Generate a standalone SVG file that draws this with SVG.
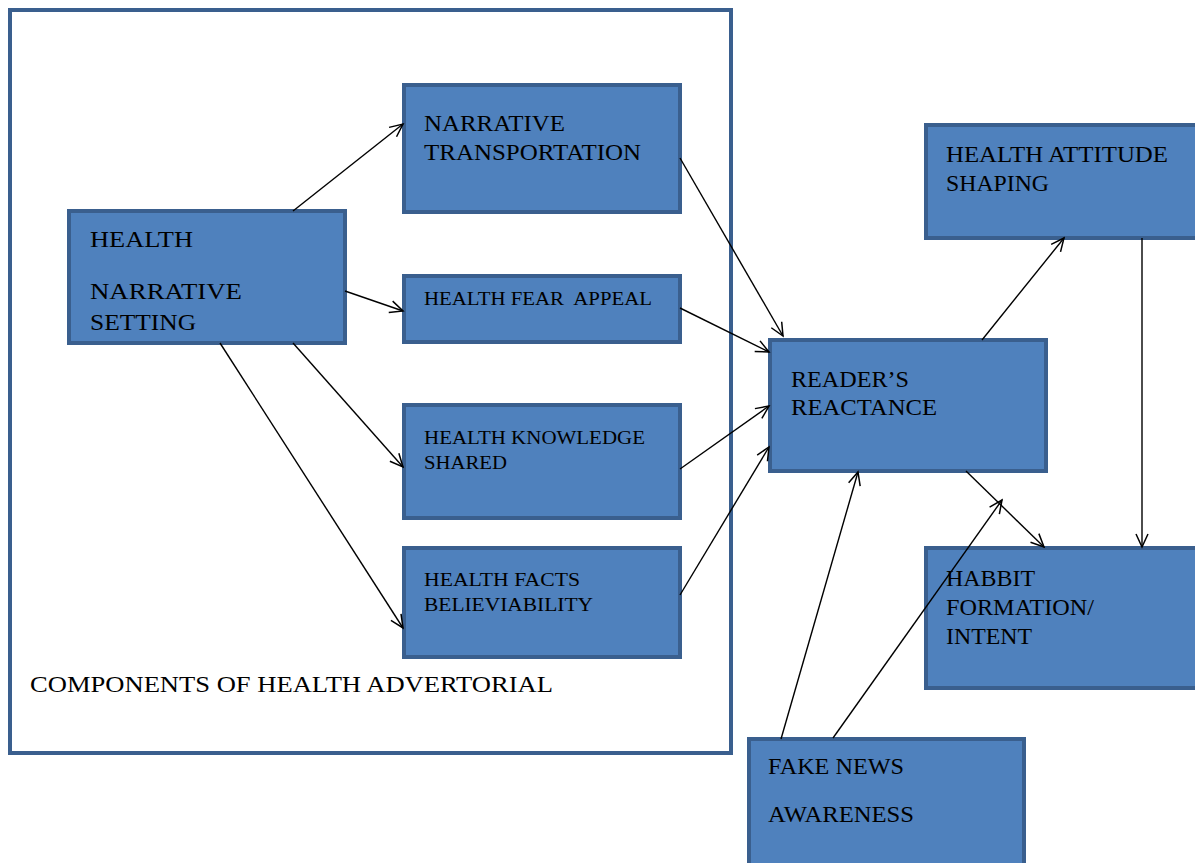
<svg xmlns="http://www.w3.org/2000/svg" width="1195" height="863" viewBox="0 0 1195 863">
<defs>
<style>
.box{fill:#4f81bd;stroke:#3a5f8e;stroke-width:4}
.frame{fill:#ffffff;stroke:#3a5f8e;stroke-width:4}
.t{font-family:"Liberation Serif","Times New Roman",serif;font-size:24px;fill:#000}
.s{font-family:"Liberation Serif","Times New Roman",serif;font-size:19px;fill:#000}
.c{stroke:#000;stroke-width:1.4;fill:none;marker-end:url(#arr)}
</style>
<marker id="arr" markerUnits="userSpaceOnUse" markerWidth="18" markerHeight="18" viewBox="0 0 18 18" refX="16" refY="9" orient="auto">
<path d="M3,3 L16,9 L3,15" fill="none" stroke="#000" stroke-width="1.5"/>
</marker>
</defs>
<g id="container">
<rect class="frame" x="10" y="10" width="721" height="743"/>
<text class="t" x="30" y="692" textLength="523" lengthAdjust="spacingAndGlyphs">COMPONENTS OF HEALTH ADVERTORIAL</text>
</g>
<g id="narrative-setting">
<rect class="box" x="69" y="211" width="276" height="132"/>
<text class="t" x="90" y="247" textLength="103" lengthAdjust="spacingAndGlyphs">HEALTH</text>
<text class="t" x="90" y="299" textLength="152" lengthAdjust="spacingAndGlyphs">NARRATIVE</text>
<text class="t" x="90" y="330" textLength="106" lengthAdjust="spacingAndGlyphs">SETTING</text>
</g>
<g id="narrative-transportation">
<rect class="box" x="404" y="85" width="276" height="127"/>
<text class="t" x="424" y="131" textLength="141" lengthAdjust="spacingAndGlyphs">NARRATIVE</text>
<text class="t" x="424" y="160" textLength="217" lengthAdjust="spacingAndGlyphs">TRANSPORTATION</text>
</g>
<g id="fear-appeal">
<rect class="box" x="404" y="276" width="276" height="66"/>
<text class="s" x="424" y="305" textLength="228" lengthAdjust="spacingAndGlyphs" xml:space="preserve">HEALTH FEAR  APPEAL</text>
</g>
<g id="knowledge-shared">
<rect class="box" x="404" y="405" width="276" height="113"/>
<text class="s" x="424" y="444" textLength="221" lengthAdjust="spacingAndGlyphs">HEALTH KNOWLEDGE</text>
<text class="s" x="424" y="469" textLength="83" lengthAdjust="spacingAndGlyphs">SHARED</text>
</g>
<g id="facts-believability">
<rect class="box" x="404" y="548" width="276" height="109"/>
<text class="s" x="424" y="586" textLength="156" lengthAdjust="spacingAndGlyphs">HEALTH FACTS</text>
<text class="s" x="424" y="611" textLength="169" lengthAdjust="spacingAndGlyphs">BELIEVIABILITY</text>
</g>
<g id="readers-reactance">
<rect class="box" x="770" y="340" width="276" height="131"/>
<text class="t" x="791" y="387" textLength="118" lengthAdjust="spacingAndGlyphs">READER’S</text>
<text class="t" x="791" y="415" textLength="146" lengthAdjust="spacingAndGlyphs">REACTANCE</text>
</g>
<g id="attitude-shaping">
<rect class="box" x="926" y="125" width="276" height="113"/>
<text class="t" x="946" y="162" textLength="222" lengthAdjust="spacingAndGlyphs">HEALTH ATTITUDE</text>
<text class="t" x="946" y="191" textLength="103" lengthAdjust="spacingAndGlyphs">SHAPING</text>
</g>
<g id="habit-formation">
<rect class="box" x="926" y="548" width="276" height="140"/>
<text class="t" x="946" y="586" textLength="89" lengthAdjust="spacingAndGlyphs">HABBIT</text>
<text class="t" x="946" y="615" textLength="148" lengthAdjust="spacingAndGlyphs">FORMATION/</text>
<text class="t" x="946" y="644" textLength="86" lengthAdjust="spacingAndGlyphs">INTENT</text>
</g>
<g id="fake-news">
<rect class="box" x="749" y="739" width="275" height="130"/>
<text class="t" x="768" y="774" textLength="136" lengthAdjust="spacingAndGlyphs">FAKE NEWS</text>
<text class="t" x="768" y="822" textLength="146" lengthAdjust="spacingAndGlyphs">AWARENESS</text>
</g>
<g id="connectors">
<line class="c" x1="293" y1="211" x2="403" y2="124"/>
<line class="c" x1="345" y1="291" x2="403" y2="311"/>
<line class="c" x1="293" y1="343" x2="403" y2="467"/>
<line class="c" x1="220" y1="343" x2="403" y2="628"/>
<line class="c" x1="680" y1="158" x2="783" y2="336"/>
<line class="c" x1="680" y1="308" x2="769" y2="352"/>
<line class="c" x1="680" y1="469" x2="769" y2="406"/>
<line class="c" x1="680" y1="595" x2="769" y2="447"/>
<line class="c" x1="982" y1="340" x2="1064" y2="238"/>
<line class="c" x1="1142" y1="238" x2="1142" y2="547"/>
<line class="c" x1="966" y1="471" x2="1044" y2="547"/>
<line class="c" x1="781" y1="739" x2="858" y2="472"/>
<line class="c" x1="833" y1="738" x2="1002" y2="500"/>
</g>
</svg>
